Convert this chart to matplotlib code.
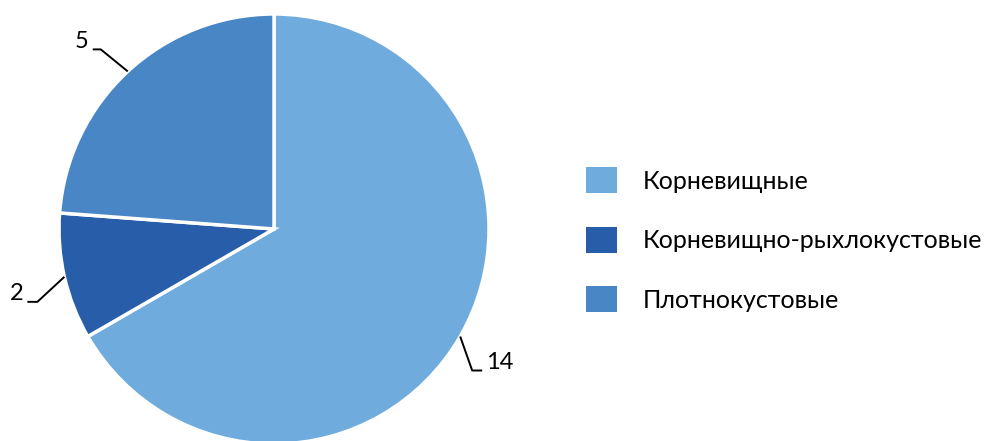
import numpy as np
import matplotlib
matplotlib.use("Agg")
import matplotlib.pyplot as plt
from matplotlib.patches import Patch

categories = ["Корневищные", "Корневищно-рыхлокустовые", "Плотнокустовые"]
values = [14, 2, 5]
colors = ["#70ABDD", "#275DA9", "#4986C5"]

plt.rcParams['font.family'] = ['Lato', 'DejaVu Sans']

W, H = 995, 441
fig = plt.figure(figsize=(W / 100, H / 100), dpi=100)
ax = fig.add_axes([0, 0, 1, 1])
R = 215.0
cx, cy = 274.0, 229.0  # pixel center (from top)

wedges, _ = ax.pie(values, colors=colors, startangle=90, counterclock=False,
                   radius=1.0, center=(0, 0),
                   wedgeprops=dict(edgecolor='white', linewidth=2.5))
ax.set_xlim(-cx / R, (W - cx) / R)
ax.set_ylim(-(H - cy) / R, cy / R)
ax.set_aspect('auto')
ax.axis('off')

# leader lines: (elbow offset px, horizontal px)
offsets = [((12, -34), 10), ((-27, -25), -10), ((-27, 22), -8)]
for w, v, (el, hz) in zip(wedges, values, offsets):
    ang = np.deg2rad((w.theta1 + w.theta2) / 2)
    x0, y0 = np.cos(ang), np.sin(ang)
    x1, y1 = x0 + el[0] / R, y0 + el[1] / R
    x2 = x1 + hz / R
    ax.plot([x0, x1, x2], [y0, y1, y1], color='black', lw=1.4, solid_capstyle='butt')
    ha = 'left' if hz > 0 else 'right'
    ax.text(x2 + np.sign(hz) * 4 / R, y1 + 8 / R, str(v), ha=ha, va='center', fontsize=17, color='black')

handles = [Patch(facecolor=c, edgecolor='none') for c in colors]
leg = fig.legend(handles, categories, loc='upper left',
                 bbox_to_anchor=(586 / W, 1 - 167 / H), frameon=False,
                 fontsize=18, handlelength=1.24, handleheight=1.24,
                 handletextpad=1.04, labelspacing=1.33, borderpad=0, borderaxespad=0)

fig.savefig("out.png", dpi=100)
